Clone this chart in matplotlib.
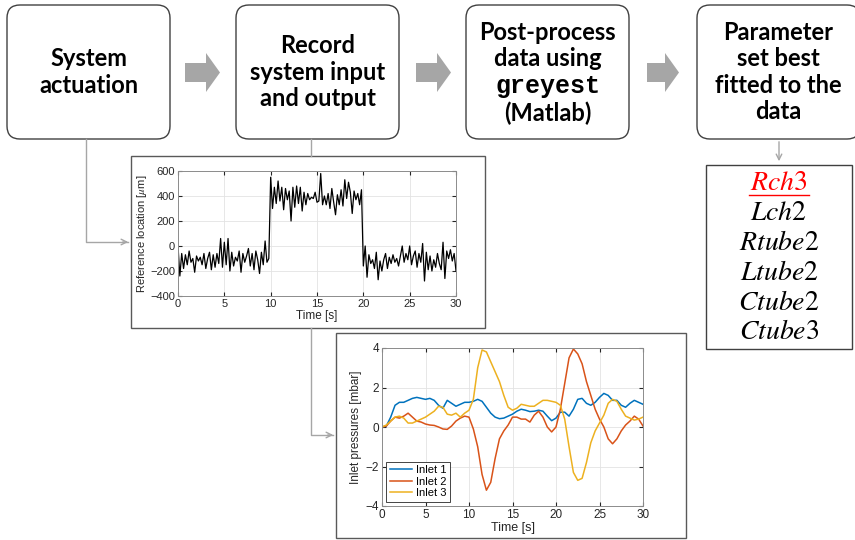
import numpy as np
import matplotlib
matplotlib.use("Agg")
import matplotlib.pyplot as plt
from matplotlib.patches import FancyBboxPatch, Rectangle, Polygon

plt.rcParams['mathtext.fontset'] = 'stix'
plt.rcParams['font.family'] = ['Liberation Sans', 'DejaVu Sans']

# ---- data: reference location (um), sampled every 0.2 s ----
t_ref = np.arange(0, 30.01, 0.2)
ref_loc = [
    0, -240, -60, -180, -70, -150, -40, -130, -100, -210,
    -80, -120, -90, -150, -60, -180, -100, -50, -190, -70,
    -170, -60, -140, 60, -170, 30, -150, 60, -200, -50,
    -160, -90, -120, -40, -210, -60, -130, -80, -20, -160,
    -60, -190, -40, -110, -220, -50, -150, 40, -130, -100,
    550, 300, 470, 340, 520, 360, 470, 290, 460, 370,
    440, 200, 470, 310, 480, 340, 470, 280, 430, 330,
    420, 370, 390, 380, 430, 350, 360, 580, 330, 400,
    330, 420, 300, 460, 350, 250, 410, 330, 450, 320,
    530, 380, 510, 430, 260, 440, 370, 420, 330, 450,
    -160, 0, -250, -70, -140, -110, -180, -50, -270, -120,
    -200, -110, -60, -180, -90, -140, -70, -130, -100, -160,
    -80, 0, -130, -60, -110, 0, -150, -80, -40, -170,
    -60, -130, 20, -280, -50, -190, -80, -200, -110, -170,
    -60, -140, -190, 30, -260, -40, -100, -30, -120, -60,
    -200,
]

# ---- data: inlet pressures (mbar), sampled every 0.5 s ----
t_p = np.arange(0, 30.01, 0.5)
inlet1 = [
    0, 0.05, 0.5, 1.1, 1.25, 1.25, 1.35, 1.45, 1.5, 1.45,
    1.4, 1.45, 1.35, 1.1, 0.95, 1.35, 1.2, 1.05, 1.15, 1.25,
    1.25, 1.3, 1.4, 1.3, 1.0, 0.7, 0.5, 0.42, 0.45, 0.55,
    0.65, 0.8, 0.9, 0.85, 0.78, 0.8, 0.85, 0.8, 0.55, 0.32,
    0.45, 0.75, 0.75, 0.55, 0.9, 1.4, 1.45, 1.2, 1.1, 1.25,
    1.5, 1.7, 1.6, 1.35, 1.35, 1.1, 1.0, 1.2, 1.35, 1.25,
    1.15,
]
inlet2 = [
    0, 0.05, 0.3, 0.5, 0.45, 0.55, 0.7, 0.5, 0.3, 0.25,
    0.15, 0.1, 0.08, 0.0, -0.1, -0.12, 0.05, 0.3, 0.45, 0.55,
    0.5, -0.1, -1.0, -2.4, -3.2, -2.8, -1.6, -0.6, -0.2, 0.1,
    0.5, 0.5, 0.4, 0.4, 0.25, 0.6, 0.8, 0.5, 0.0, -0.25,
    0.0, 0.9, 2.2, 3.5, 3.95, 3.7, 3.2, 2.3, 1.6, 0.9,
    0.4, 0.0, -0.6, -0.85, -0.6, -0.2, 0.1, 0.3, 0.55, 0.4,
    0.05,
]
inlet3 = [
    0, 0.1, 0.3, 0.5, 0.55, 0.45, 0.2, 0.2, 0.3, 0.4,
    0.5, 0.65, 0.8, 1.05, 1.0, 0.65, 0.6, 0.7, 0.5, 0.7,
    0.85, 1.4, 3.0, 3.9, 3.8, 3.3, 2.8, 2.3, 1.6, 1.0,
    0.85, 0.95, 1.15, 1.1, 1.05, 1.05, 1.2, 1.35, 1.35, 1.3,
    1.25, 1.1, 0.4, -1.0, -2.3, -2.7, -2.6, -1.8, -0.8, -0.2,
    0.2, 0.6, 1.2, 1.4, 1.3, 0.9, 0.55, 0.45, 0.35, 0.4,
    0.5,
]
inlet_labels = ['Inlet 1', 'Inlet 2', 'Inlet 3']
inlet_colors = ['#0072BD', '#D95319', '#EDB120']

step_texts = [
    'System\nactuation',
    'Record\nsystem input\nand output',
    None,
    'Parameter\nset best\nfitted to the\ndata',
]
params = ['Rch3', 'Lch2', 'Rtube2', 'Ltube2', 'Ctube2', 'Ctube3']

W, H = 855, 540
fig = plt.figure(figsize=(W / 100, H / 100), dpi=100)
ax0 = fig.add_axes([0, 0, 1, 1])
ax0.set_xlim(0, W)
ax0.set_ylim(H, 0)
ax0.axis('off')

grey = '#A6A6A6'
box_font = dict(family='Lato', weight='bold', fontsize=17, color='black',
                ha='center', va='center', linespacing=1.18)

# process boxes
box_x = [7, 236, 466, 697]
for i, bx in enumerate(box_x):
    ax0.add_patch(FancyBboxPatch((bx, 5), 163, 134,
                                 boxstyle='round,pad=0,rounding_size=13',
                                 fc='white', ec='#404040', lw=1.0))
    if step_texts[i] is not None:
        ax0.text(bx + 81.5, 72, step_texts[i], **box_font)

# third box mixes fonts
cx3 = box_x[2] + 81.5
ax0.text(cx3, 32, 'Post-process', **box_font)
ax0.text(cx3, 59, 'data using', **box_font)
ax0.text(cx3, 86, 'greyest', family='Liberation Mono', weight='bold',
         fontsize=18, ha='center', va='center')
ax0.text(cx3, 113, '(Matlab)', **box_font)

# block arrows between boxes
for x0, x1 in [(185, 220), (416, 451), (647, 679)]:
    xm = x1 - 14
    pts = [(x0, 63), (xm, 63), (xm, 53), (x1, 72.5), (xm, 92), (xm, 82), (x0, 82)]
    ax0.add_patch(Polygon(pts, closed=True, fc=grey, ec='none'))

# plot frames
ax0.add_patch(Rectangle((131, 156), 354, 172, fc='white', ec='#595959', lw=1.0))
ax0.add_patch(Rectangle((336, 333), 350, 205, fc='white', ec='#595959', lw=1.0))

# connectors
ax0.plot([86, 86, 128], [139, 242, 242], color=grey, lw=1)
ax0.annotate('', xy=(131, 242), xytext=(120, 242),
             arrowprops=dict(arrowstyle='->', color=grey, lw=1))
ax0.plot([311, 311], [139, 156], color=grey, lw=1)
ax0.plot([311, 311, 333], [328, 435, 435], color=grey, lw=1)
ax0.annotate('', xy=(336, 435), xytext=(325, 435),
             arrowprops=dict(arrowstyle='->', color=grey, lw=1))
ax0.annotate('', xy=(779, 164), xytext=(779, 139),
             arrowprops=dict(arrowstyle='->', color=grey, lw=1))

# parameter box
ax0.add_patch(Rectangle((706, 165), 146, 184, fc='white', ec='#404040', lw=1.0))
param_y = [183, 213, 243, 273, 303, 332]
for p, y in zip(params, param_y):
    col = 'red' if p == 'Rch3' else 'black'
    ax0.text(779, y, '$' + p + '$', fontsize=20, color=col, ha='center', va='center')
ax0.plot([749, 809], [195, 195], color='red', lw=1)


def matlab_style(ax, size):
    ax.grid(True, color='#e3e3e3', lw=0.6)
    ax.set_axisbelow(True)
    for s in ax.spines.values():
        s.set_color('#8c8c8c')
        s.set_linewidth(0.7)
    ax.tick_params(direction='in', length=3, labelsize=size, colors='#262626',
                   top=True, right=True, pad=2)


def px_rect(l, r, t, b):
    return [l / W, 1 - b / H, (r - l) / W, (b - t) / H]


# reference location plot
ax1 = fig.add_axes(px_rect(178, 456, 171, 296))
ax1.plot(t_ref, ref_loc, color='black', lw=0.9)
ax1.set_xlim(0, 30)
ax1.set_ylim(-400, 600)
ax1.set_xticks(np.arange(0, 31, 5))
ax1.set_yticks(np.arange(-400, 601, 200))
ax1.set_xlabel('Time [s]', fontsize=8.5, labelpad=1, color='#262626')
ax1.set_ylabel(r'Reference location [$\mu$m]', fontsize=8, labelpad=1, color='#262626')
matlab_style(ax1, 8)

# inlet pressures plot
ax2 = fig.add_axes(px_rect(382, 643, 348, 506))
for y, lab, c in zip([inlet1, inlet2, inlet3], inlet_labels, inlet_colors):
    ax2.plot(t_p, y, color=c, lw=1.1, label=lab)
ax2.set_xlim(0, 30)
ax2.set_ylim(-4, 4)
ax2.set_xticks(np.arange(0, 31, 5))
ax2.set_yticks(np.arange(-4, 5, 2))
ax2.set_xlabel('Time [s]', fontsize=9, labelpad=1, color='#262626')
ax2.set_ylabel('Inlet pressures [mbar]', fontsize=8.5, labelpad=3, color='#262626')
matlab_style(ax2, 8.5)
leg = ax2.legend(loc='lower left', fontsize=8, fancybox=False, framealpha=1,
                 edgecolor='#262626', handlelength=2.0, borderpad=0.3,
                 labelspacing=0.15, borderaxespad=0.4, handletextpad=0.4)
leg.get_frame().set_linewidth(0.6)

fig.savefig('out.png', dpi=100)
